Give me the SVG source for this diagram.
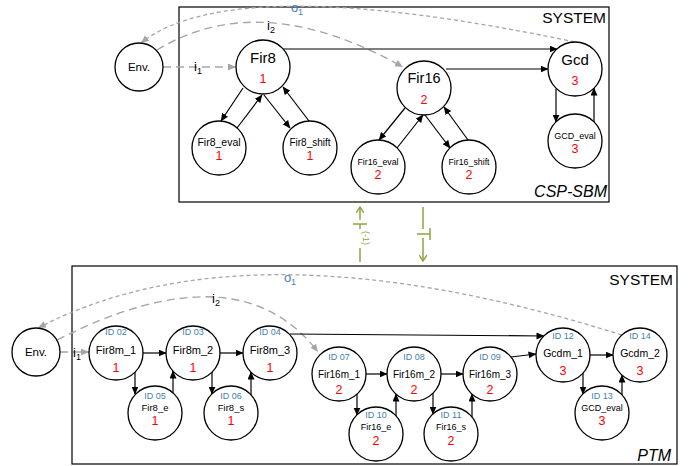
<svg xmlns="http://www.w3.org/2000/svg" width="697" height="466" viewBox="0 0 697 466">
<defs>
<marker id="ab" markerUnits="userSpaceOnUse" markerWidth="8" markerHeight="8" refX="7.5" refY="3.5" orient="auto"><path d="M0,0 L8,3.5 L0,7 z" fill="#000"/></marker>
<marker id="ag" markerUnits="userSpaceOnUse" markerWidth="9" markerHeight="8" refX="8" refY="3.5" orient="auto"><path d="M0,0 L8,3.5 L0,7 z" fill="#a6a6a6"/></marker>
<marker id="av" markerUnits="userSpaceOnUse" markerWidth="8" markerHeight="8" refX="6" refY="4" orient="auto"><path d="M0,0 L6,4 L0,8" fill="none" stroke="#8aa642" stroke-width="1.4"/></marker>
<style>
text{font-family:"Liberation Sans",Arial,sans-serif;text-anchor:middle;fill:#000}
.nd{fill:#fff;stroke:#000;stroke-width:1.3}
.box{fill:none;stroke:#000;stroke-width:1.2}
.c{stroke:#000;stroke-width:1.2;fill:none;marker-end:url(#ab)}
.dl{stroke:#a6a6a6;stroke-width:1.4;fill:none;stroke-dasharray:8 5;marker-end:url(#ag)}
.ds{stroke:#a6a6a6;stroke-width:1.3;fill:none;stroke-dasharray:4 3;marker-end:url(#ag)}
.g{stroke:#8aa642;stroke-width:1.5;fill:none}
.num{fill:#ff0000}
.id{fill:#3f7fab;font-size:9px}
.ttl{font-size:15.5px;text-anchor:end}
.it{font-size:16px;font-style:italic;text-anchor:end}
.o{fill:#4a7ebb}
</style>
</defs>

<!-- frames -->
<rect class="box" x="179" y="7" width="430" height="195"/>
<text class="ttl" x="606" y="23">SYSTEM</text>
<text class="it" x="607" y="197">CSP-SBM</text>
<rect class="box" x="72" y="266" width="605" height="198"/>
<text class="ttl" x="673" y="285">SYSTEM</text>
<text class="it" x="671" y="461">PTM</text>

<!-- connectors -->
<g id="connectors">
  <!-- top -->
  <path class="ds" d="M575,42 Q232,-30 141,43"/>
  <path class="dl" d="M157,50 Q260,-13 403,67"/>
  <path class="dl" d="M163,67 L236,67"/>
  <line class="c" x1="283" y1="49" x2="557" y2="49"/>
  <line class="c" x1="446" y1="69" x2="548" y2="69"/>
  <line class="c" x1="243" y1="88" x2="221" y2="121"/>
  <line class="c" x1="237" y1="128" x2="262" y2="95"/>
  <line class="c" x1="264" y1="95" x2="290" y2="128"/>
  <line class="c" x1="309" y1="121" x2="283" y2="87"/>
  <line class="c" x1="405" y1="108" x2="379" y2="140"/>
  <line class="c" x1="397" y1="148" x2="423" y2="115"/>
  <line class="c" x1="425" y1="115" x2="450" y2="148"/>
  <line class="c" x1="468" y1="140" x2="444" y2="107"/>
  <line class="c" x1="556" y1="89" x2="556" y2="122"/>
  <line class="c" x1="594" y1="122" x2="594" y2="88"/>
  <!-- middle transforms -->
  <line class="g" x1="360" y1="220" x2="360" y2="207" marker-end="url(#av)"/>
  <line class="g" x1="353" y1="224" x2="367" y2="224"/>
  <line class="g" x1="360" y1="224" x2="360" y2="229"/>
  <text x="0" y="0" font-size="9" style="fill:#8aa642" transform="translate(363,238) rotate(90)">(-1)</text>
  <line class="g" x1="360" y1="248" x2="360" y2="262"/>
  <line class="g" x1="423" y1="207" x2="423" y2="229"/>
  <line class="g" x1="417" y1="234" x2="430" y2="234"/>
  <line class="g" x1="430" y1="228" x2="430" y2="240"/>
  <line class="g" x1="423" y1="238" x2="423" y2="261" marker-end="url(#av)"/>
  <!-- bottom -->
  <path class="ds" d="M622,335 Q249,218 38,328"/>
  <path class="dl" d="M57,340 Q238,248 318,352"/>
  <path class="dl" d="M60,352 L89,352"/>
  <line class="c" x1="143" y1="353" x2="166" y2="353"/>
  <line class="c" x1="220" y1="353" x2="243" y2="353"/>
  <line class="c" x1="135" y1="372" x2="135" y2="394"/>
  <line class="c" x1="173" y1="393" x2="173" y2="371"/>
  <line class="c" x1="212" y1="372" x2="212" y2="394"/>
  <line class="c" x1="251" y1="395" x2="251" y2="372"/>
  <line class="c" x1="290" y1="334" x2="544" y2="336"/>
  <line class="c" x1="366" y1="374" x2="387" y2="374"/>
  <line class="c" x1="441" y1="374" x2="463" y2="374"/>
  <line class="c" x1="357" y1="394" x2="357" y2="415"/>
  <line class="c" x1="396" y1="416" x2="396" y2="394"/>
  <line class="c" x1="433" y1="393" x2="433" y2="414"/>
  <line class="c" x1="472" y1="417" x2="472" y2="394"/>
  <line class="c" x1="511" y1="357" x2="536" y2="354"/>
  <line class="c" x1="590" y1="355" x2="613" y2="355"/>
  <line class="c" x1="583" y1="373" x2="583" y2="394"/>
  <line class="c" x1="622" y1="395" x2="622" y2="375"/>
</g>

<!-- edge labels -->
<text class="o" x="297" y="12" font-size="13">o<tspan font-size="9" dy="3">1</tspan></text>
<text x="271" y="30" font-size="13">i<tspan font-size="9" dy="3">2</tspan></text>
<text x="198" y="71" font-size="13">i<tspan font-size="9" dy="3">1</tspan></text>
<text class="o" x="290" y="282" font-size="13">o<tspan font-size="9" dy="3">1</tspan></text>
<text x="216" y="303" font-size="13">i<tspan font-size="9" dy="3">2</tspan></text>
<text x="77" y="357" font-size="13">i<tspan font-size="9" dy="3">1</tspan></text>

<!-- top nodes -->
<g id="env-top"><circle class="nd" cx="139" cy="67" r="24"/><text x="139" y="71" font-size="11.5">Env.</text></g>
<g id="fir8"><circle class="nd" cx="263" cy="67" r="27"/><text x="263" y="63" font-size="15">Fir8</text><text class="num" x="263" y="83" font-size="12.5">1</text></g>
<g id="fir8-eval"><circle class="nd" cx="219" cy="148" r="27"/><text x="219" y="146" font-size="10.5">Fir8_eval</text><text class="num" x="219" y="160" font-size="12.5">1</text></g>
<g id="fir8-shift"><circle class="nd" cx="310" cy="148" r="27"/><text x="310" y="146" font-size="10">Fir8_shift</text><text class="num" x="310" y="160" font-size="12.5">1</text></g>
<g id="fir16"><circle class="nd" cx="424" cy="88" r="27"/><text x="424" y="83" font-size="14.5">Fir16</text><text class="num" x="424" y="104" font-size="12.5">2</text></g>
<g id="fir16-eval"><circle class="nd" cx="378" cy="167" r="27"/><text x="378" y="165" font-size="8.8">Fir16_eval</text><text class="num" x="378" y="179" font-size="12.5">2</text></g>
<g id="fir16-shift"><circle class="nd" cx="469" cy="167" r="27"/><text x="469" y="165" font-size="8.8">Fir16_shift</text><text class="num" x="469" y="179" font-size="12.5">2</text></g>
<g id="gcd"><circle class="nd" cx="575" cy="69" r="27"/><text x="575" y="65" font-size="15">Gcd</text><text class="num" x="575" y="85" font-size="12.5">3</text></g>
<g id="gcd-eval"><circle class="nd" cx="575" cy="141" r="27"/><text x="575" y="139" font-size="9">GCD_eval</text><text class="num" x="575" y="153" font-size="12.5">3</text></g>

<!-- bottom nodes -->
<g id="env-bot"><circle class="nd" cx="36" cy="352" r="24"/><text x="36" y="356" font-size="11.5">Env.</text></g>
<g id="id02"><circle class="nd" cx="116" cy="353" r="27"/><text class="id" x="116" y="335">ID 02</text><text x="116" y="354" font-size="11">Fir8m_1</text><text class="num" x="116" y="372" font-size="12.5">1</text></g>
<g id="id03"><circle class="nd" cx="193" cy="353" r="27"/><text class="id" x="193" y="335">ID 03</text><text x="193" y="354" font-size="11">Fir8m_2</text><text class="num" x="193" y="372" font-size="12.5">1</text></g>
<g id="id04"><circle class="nd" cx="270" cy="353" r="27"/><text class="id" x="270" y="335">ID 04</text><text x="270" y="354" font-size="11">Fir8m_3</text><text class="num" x="270" y="372" font-size="12.5">1</text></g>
<g id="id05"><circle class="nd" cx="155" cy="413" r="27"/><text class="id" x="155" y="399">ID 05</text><text x="155" y="411" font-size="9.5">Fir8_e</text><text class="num" x="155" y="425" font-size="12.5">1</text></g>
<g id="id06"><circle class="nd" cx="231" cy="413" r="27"/><text class="id" x="231" y="399">ID 06</text><text x="231" y="411" font-size="9.5">Fir8_s</text><text class="num" x="231" y="425" font-size="12.5">1</text></g>
<g id="id07"><circle class="nd" cx="339" cy="374" r="27"/><text class="id" x="339" y="360">ID 07</text><text x="339" y="378" font-size="10">Fir16m_1</text><text class="num" x="339" y="394" font-size="12.5">2</text></g>
<g id="id08"><circle class="nd" cx="414" cy="374" r="27"/><text class="id" x="414" y="360">ID 08</text><text x="414" y="378" font-size="10">Fir16m_2</text><text class="num" x="414" y="394" font-size="12.5">2</text></g>
<g id="id09"><circle class="nd" cx="490" cy="374" r="27"/><text class="id" x="490" y="360">ID 09</text><text x="490" y="378" font-size="10">Fir16m_3</text><text class="num" x="490" y="394" font-size="12.5">2</text></g>
<g id="id10"><circle class="nd" cx="376" cy="434" r="27"/><text class="id" x="376" y="418">ID 10</text><text x="376" y="430" font-size="9">Fir16_e</text><text class="num" x="376" y="445" font-size="12.5">2</text></g>
<g id="id11"><circle class="nd" cx="451" cy="434" r="27"/><text class="id" x="451" y="418">ID 11</text><text x="451" y="430" font-size="9">Fir16_s</text><text class="num" x="451" y="445" font-size="12.5">2</text></g>
<g id="id12"><circle class="nd" cx="563" cy="355" r="27"/><text class="id" x="563" y="339">ID 12</text><text x="563" y="357" font-size="10.5">Gcdm_1</text><text class="num" x="563" y="375" font-size="12.5">3</text></g>
<g id="id13"><circle class="nd" cx="602" cy="413" r="27"/><text class="id" x="602" y="399">ID 13</text><text x="602" y="411" font-size="9">GCD_eval</text><text class="num" x="602" y="425" font-size="12.5">3</text></g>
<g id="id14"><circle class="nd" cx="640" cy="355" r="27"/><text class="id" x="640" y="339">ID 14</text><text x="640" y="357" font-size="10.5">Gcdm_2</text><text class="num" x="640" y="375" font-size="12.5">3</text></g>
</svg>
